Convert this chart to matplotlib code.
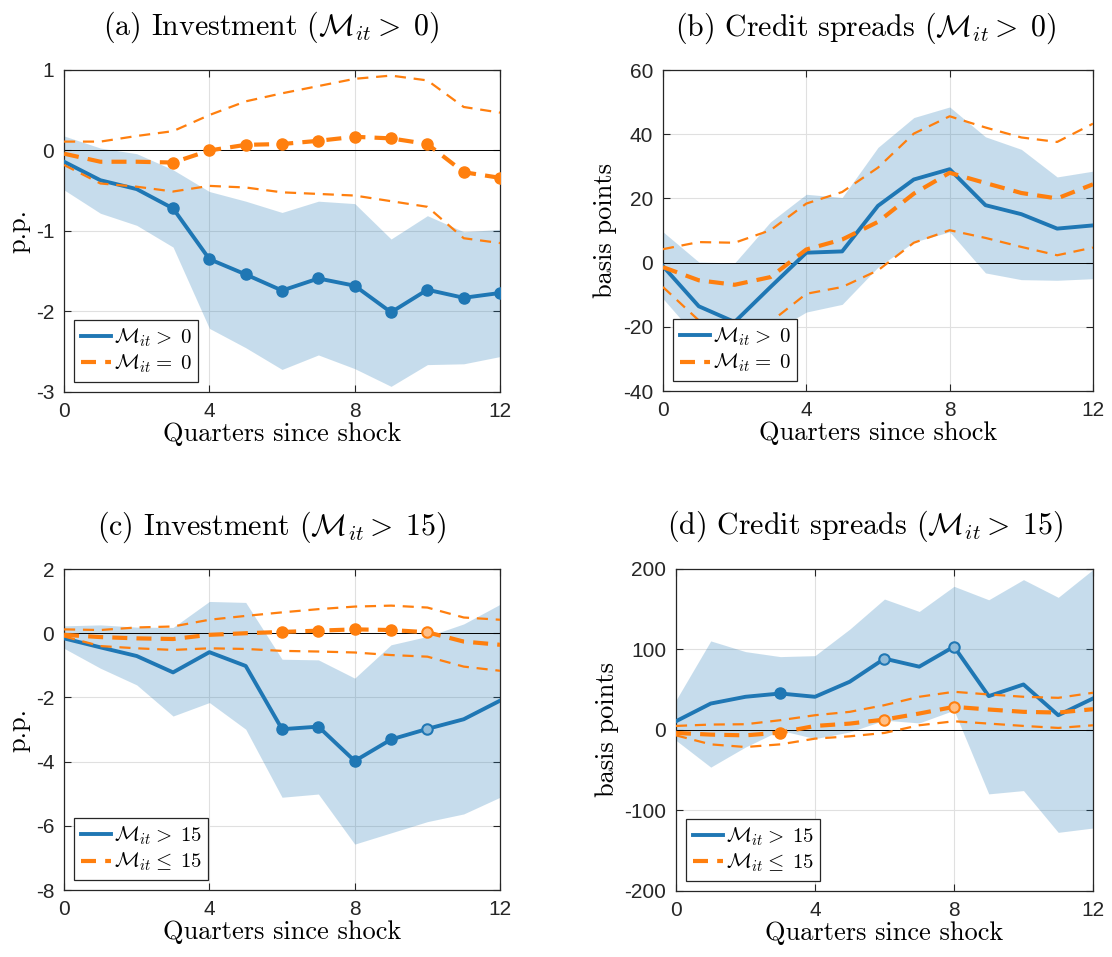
import numpy as np
import matplotlib
matplotlib.use("Agg")
import matplotlib.pyplot as plt

plt.rcParams['mathtext.fontset'] = 'cm'
plt.rcParams['axes.unicode_minus'] = False
plt.rcParams['font.family'] = ['Liberation Sans', 'DejaVu Sans']

quarters = np.arange(13)

# (a) Investment, M > 0 vs M = 0
a_hi = [-0.14, -0.37, -0.48, -0.72, -1.35, -1.54, -1.74, -1.59, -1.68, -2.01, -1.73, -1.83, -1.77]
a_hi_up = [0.18, 0.03, -0.04, -0.24, -0.51, -0.63, -0.77, -0.63, -0.66, -1.10, -0.81, -1.01, -0.98]
a_hi_lo = [-0.49, -0.78, -0.93, -1.20, -2.21, -2.45, -2.72, -2.54, -2.71, -2.93, -2.66, -2.65, -2.56]
a_zero = [-0.04, -0.14, -0.14, -0.15, 0.0, 0.07, 0.08, 0.12, 0.17, 0.15, 0.08, -0.27, -0.34]
a_zero_up = [0.11, 0.11, 0.18, 0.24, 0.44, 0.61, 0.71, 0.80, 0.89, 0.93, 0.87, 0.54, 0.47]
a_zero_lo = [-0.18, -0.41, -0.45, -0.51, -0.44, -0.46, -0.52, -0.54, -0.56, -0.63, -0.70, -1.09, -1.15]

# (b) Credit spreads, M > 0 vs M = 0
b_hi = [-1.1, -13.6, -18.5, -7.6, 3.1, 3.5, 17.7, 25.9, 29.1, 17.9, 15.1, 10.6, 11.6]
b_hi_up = [9.6, 0.2, -0.1, 12.7, 21.3, 20.3, 35.9, 45.2, 48.5, 39.2, 35.3, 26.7, 28.5]
b_hi_lo = [-11.2, -24.0, -27.0, -22.0, -15.4, -13.0, -1.4, 6.4, 9.6, -3.2, -5.3, -5.5, -5.0]
b_zero = [-1.4, -5.5, -6.9, -4.5, 4.1, 7.2, 12.7, 21.5, 28.0, 24.8, 21.7, 20.0, 24.4]
b_zero_up = [4.2, 6.4, 6.2, 10.1, 18.4, 22.0, 29.6, 40.2, 45.6, 42.1, 39.0, 37.6, 43.3]
b_zero_lo = [-7.6, -18.0, -19.9, -18.5, -9.7, -7.6, -2.4, 6.2, 10.1, 7.7, 4.9, 2.3, 4.7]

# (c) Investment, M > 15 vs M <= 15
c_hi = [-0.16, -0.44, -0.71, -1.22, -0.59, -1.02, -2.99, -2.91, -3.98, -3.31, -2.98, -2.68, -2.10]
c_hi_up = [0.23, 0.26, 0.19, 0.18, 0.99, 0.96, -0.81, -0.83, -1.40, -0.36, -0.10, 0.29, 0.90]
c_hi_lo = [-0.47, -1.09, -1.61, -2.58, -2.16, -2.99, -5.11, -5.01, -6.57, -6.22, -5.87, -5.63, -5.11]
c_low = [-0.05, -0.12, -0.16, -0.18, -0.05, 0.0, 0.04, 0.08, 0.12, 0.10, 0.03, -0.26, -0.36]
c_low_up = [0.12, 0.10, 0.18, 0.21, 0.42, 0.54, 0.65, 0.75, 0.83, 0.86, 0.80, 0.49, 0.42]
c_low_lo = [-0.10, -0.40, -0.47, -0.52, -0.47, -0.49, -0.55, -0.57, -0.60, -0.68, -0.73, -1.04, -1.17]

# (d) Credit spreads, M > 15 vs M <= 15
d_hi = [10.8, 32.8, 41.2, 45.3, 41.2, 59.9, 88.6, 78.6, 103.5, 42.0, 56.5, 18.3, 39.1]
d_hi_up = [37.0, 110.6, 97.3, 91.1, 92.3, 125.2, 162.6, 147.2, 178.4, 161.7, 186.7, 164.7, 199.2]
d_hi_lo = [-12.9, -46.2, -21.2, -0.4, -10.8, -2.5, 12.1, 8.7, 24.5, -79.4, -75.3, -127.2, -121.8]
d_low = [-3.7, -5.8, -6.7, -3.3, 5.0, 7.9, 12.9, 20.4, 28.7, 25.4, 22.5, 21.6, 25.8]
d_low_up = [5.0, 6.7, 7.1, 12.1, 18.3, 22.5, 30.8, 41.2, 47.4, 44.1, 41.2, 39.9, 46.2]
d_low_lo = [-6.7, -17.9, -21.2, -17.9, -10.8, -7.9, -3.7, 5.8, 10.8, 7.9, 5.0, 2.5, 5.8]

# quarters where the difference is significant (strong / weak)
a_sig = [3, 4, 5, 6, 7, 8, 9, 10, 11, 12]
a_weak = []
b_sig = []
b_weak = []
c_sig = [6, 7, 8, 9]
c_weak = [10]
d_sig = [3]
d_weak = [6, 8]

titles = [r"(a) Investment ($\mathcal{M}_{it}>\;0$)",
          r"(b) Credit spreads ($\mathcal{M}_{it}>\;0$)",
          r"(c) Investment ($\mathcal{M}_{it}>\;15$)",
          r"(d) Credit spreads ($\mathcal{M}_{it}>\;15$)"]
ylabels = ["p.p.", "basis points", "p.p.", "basis points"]
legend_labels = [[r"$\mathcal{M}_{it}>\;0$", r"$\mathcal{M}_{it}=\;0$"],
                 [r"$\mathcal{M}_{it}>\;0$", r"$\mathcal{M}_{it}=\;0$"],
                 [r"$\mathcal{M}_{it}>\;15$", r"$\mathcal{M}_{it}\leq\;15$"],
                 [r"$\mathcal{M}_{it}>\;15$", r"$\mathcal{M}_{it}\leq\;15$"]]
ylims = [(-3, 1), (-40, 60), (-8, 2), (-200, 200)]
ysteps = [1, 20, 2, 100]

panels = [
    (a_hi, a_hi_up, a_hi_lo, a_zero, a_zero_up, a_zero_lo, a_sig, a_weak),
    (b_hi, b_hi_up, b_hi_lo, b_zero, b_zero_up, b_zero_lo, b_sig, b_weak),
    (c_hi, c_hi_up, c_hi_lo, c_low, c_low_up, c_low_lo, c_sig, c_weak),
    (d_hi, d_hi_up, d_hi_lo, d_low, d_low_up, d_low_lo, d_sig, d_weak),
]

positions = [[0.0576, 0.5904, 0.3921, 0.3365],
             [0.5962, 0.5914, 0.3867, 0.3354],
             [0.0576, 0.0700, 0.3921, 0.3354],
             [0.6079, 0.0690, 0.3750, 0.3365]]
title_x = [0.475, 0.472, 0.475, 0.453]

BLUE = "#1f77b4"
ORANGE = "#ff7f0e"
BLUE_LIGHT = "#8fbbd9"
ORANGE_LIGHT = "#ffbf86"
serif = "cmr10"

fig = plt.figure(figsize=(11.12, 9.57), dpi=100)

for i, (hi, hi_up, hi_lo, lo, lo_up, lo_lo, sig, weak) in enumerate(panels):
    ax = fig.add_axes(positions[i])
    ax.fill_between(quarters, hi_lo, hi_up, color=BLUE, alpha=0.25, linewidth=0, zorder=1)
    ax.axhline(0, color="black", linewidth=0.7, zorder=2)

    hi = np.array(hi)
    lo = np.array(lo)
    l1, = ax.plot(quarters, hi, color=BLUE, linewidth=2.8, zorder=3)
    ax.plot(quarters, lo_up, color=ORANGE, linewidth=1.6, dashes=(5, 3.5), zorder=4)
    ax.plot(quarters, lo_lo, color=ORANGE, linewidth=1.6, dashes=(5, 3.5), zorder=4)
    l2, = ax.plot(quarters, lo, color=ORANGE, linewidth=3.0, dashes=(3.6, 2.2), zorder=5)

    if sig:
        ax.plot(quarters[sig], hi[sig], "o", color=BLUE, markersize=8, zorder=6)
        ax.plot(quarters[sig], lo[sig], "o", color=ORANGE, markersize=8, zorder=6)
    if weak:
        ax.plot(quarters[weak], hi[weak], "o", markerfacecolor=BLUE_LIGHT,
                markeredgecolor=BLUE, markeredgewidth=1.5, markersize=7.5, zorder=6)
        ax.plot(quarters[weak], lo[weak], "o", markerfacecolor=ORANGE_LIGHT,
                markeredgecolor=ORANGE, markeredgewidth=1.5, markersize=7.5, zorder=6)

    ax.set_xlim(0, 12)
    ax.set_ylim(*ylims[i])
    ax.set_xticks([0, 4, 8, 12])
    ax.set_yticks(np.arange(ylims[i][0], ylims[i][1] + ysteps[i] / 2, ysteps[i]))
    ax.grid(True, color="#e0e0e0", linewidth=0.8)
    ax.set_axisbelow(True)
    ax.tick_params(direction="in", top=True, right=True, length=5, width=0.8,
                   labelsize=15, colors="#262626", pad=7)
    for sp in ax.spines.values():
        sp.set_color("#262626")
        sp.set_linewidth(0.9)

    ax.set_title(titles[i], fontsize=21.5, fontfamily=serif, pad=25, x=title_x[i])
    ax.set_xlabel("Quarters since shock", fontsize=19, fontfamily=serif, labelpad=1)
    ax.set_ylabel(ylabels[i], fontsize=19, fontfamily=serif, labelpad=4)

    leg = ax.legend([l1, l2], legend_labels[i], loc="lower left", fontsize=15,
                    frameon=True, fancybox=False, framealpha=1, edgecolor="#262626",
                    handlelength=1.45, handletextpad=0.15, borderpad=0.3,
                    labelspacing=0.2, borderaxespad=0.5)
    leg.get_frame().set_linewidth(0.9)
    leg.set_zorder(10)

fig.savefig("out.png", dpi=100)
